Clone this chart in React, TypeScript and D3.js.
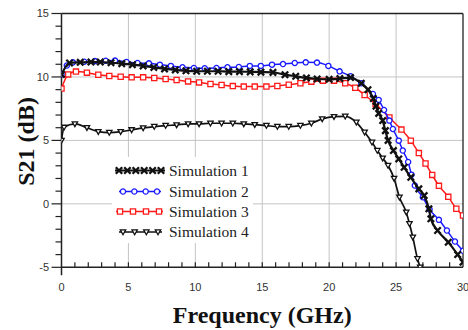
import * as d3 from "d3";
import React from "react";

// values (GHz / dB)
const sim1Freq = [0, 0.6, 1.4, 2.2, 2.9, 3.7, 4.5, 5.3, 6.1, 6.9, 7.7, 8.5, 9.3, 10.1, 10.9, 11.7, 12.5, 13.3, 14.1, 14.9, 15.8, 16.7, 17.5, 18.3, 19.1, 20.0, 20.8, 21.6, 22.4, 22.9, 23.3, 23.5, 23.7, 24.0, 24.2, 24.4, 24.8, 25.2, 25.6, 26.1, 26.7, 27.1, 27.45, 27.6, 28.1, 28.9, 29.6, 30];
const sim1Gain = [10.2, 11.1, 11.15, 11.17, 11.17, 11.12, 11.05, 10.97, 10.87, 10.75, 10.63, 10.55, 10.48, 10.45, 10.45, 10.45, 10.42, 10.42, 10.4, 10.38, 10.36, 10.18, 10.05, 9.92, 9.84, 9.81, 9.87, 9.95, 9.5, 9.0, 8.3, 7.7, 7.13, 6.56, 5.77, 5.0, 4.2, 3.54, 2.88, 2.09, 1.18, 0.65, -0.39, -1.18, -2.1, -3.02, -4.0, -4.6];

const sim2Freq = [0, 0.4, 0.85, 1.7, 2.5, 3.3, 4.0, 4.86, 5.68, 6.53, 7.35, 8.17, 9.04, 9.89, 10.7, 11.58, 12.4, 13.25, 14.07, 14.89, 15.73, 16.55, 17.43, 18.25, 19.09, 19.94, 20.78, 21.6, 22.4, 23.27, 23.7, 24.1, 24.5, 24.76, 25.2, 25.5, 25.9, 26.15, 26.4, 27.0, 27.5, 28.2, 28.8, 29.4, 30];
const sim2Gain = [10.2, 10.9, 11.15, 11.2, 11.25, 11.28, 11.29, 11.18, 11.1, 11.07, 10.97, 10.87, 10.76, 10.71, 10.68, 10.71, 10.76, 10.79, 10.87, 10.87, 10.97, 11.02, 11.1, 11.15, 11.13, 10.87, 10.44, 10.05, 9.5, 8.66, 8.19, 7.4, 6.56, 5.9, 4.98, 4.2, 3.3, 2.3, 1.44, 0.52, -0.43, -1.26, -2.1, -2.97, -3.7];

const sim3Freq = [0, 0.5, 1.08, 1.9, 2.75, 3.57, 4.42, 5.24, 6.1, 6.93, 7.78, 8.6, 9.46, 10.28, 11.13, 11.96, 12.8, 13.62, 14.44, 15.31, 16.13, 16.98, 17.85, 18.67, 19.54, 20.36, 21.2, 21.95, 22.65, 23.47, 24.5, 25.4, 26.1, 26.7, 27.2, 27.7, 28.2, 28.9, 29.5, 30];
const sim3Gain = [9.08, 10.2, 10.42, 10.34, 10.17, 10.08, 10.02, 9.97, 9.97, 9.92, 9.84, 9.76, 9.65, 9.57, 9.45, 9.37, 9.28, 9.24, 9.24, 9.24, 9.29, 9.39, 9.5, 9.63, 9.71, 9.71, 9.5, 9.15, 8.58, 7.87, 6.8, 5.85, 4.98, 4.0, 3.18, 2.28, 1.42, 0.55, -0.39, -0.92];

const sim4Freq = [0, 0.19, 1.0, 1.9, 2.75, 3.57, 4.42, 5.24, 6.1, 6.93, 7.78, 8.6, 9.46, 10.28, 11.13, 11.96, 12.8, 13.62, 14.44, 15.31, 16.13, 16.98, 17.85, 18.67, 19.48, 20.36, 21.2, 22.03, 22.65, 23.2, 23.6, 24.0, 24.4, 24.85, 25.25, 25.76, 26.0, 26.25, 26.6, 26.8];
const sim4Gain = [5.0, 6.03, 6.3, 6.0, 5.69, 5.62, 5.69, 5.83, 5.98, 6.09, 6.17, 6.22, 6.3, 6.3, 6.35, 6.35, 6.35, 6.3, 6.24, 6.17, 6.09, 6.09, 6.17, 6.35, 6.69, 6.87, 6.9, 6.43, 5.64, 4.85, 4.2, 3.6, 3.02, 2.0, 0.52, -0.66, -1.57, -2.63, -4.33, -5.0];

const seriesNames = ["Simulation 1", "Simulation 2", "Simulation 3", "Simulation 4"];
const xTicks = [0, 5, 10, 15, 20, 25, 30];
const yTicks = [-5, 0, 5, 10, 15];

type Marker = "x" | "circle" | "square" | "tri";

function markerPath(type: Marker) {
  if (type === "x") {
    const s = 3.2;
    return `M${-s},${-s}L${s},${s}M${-s},${s}L${s},${-s}`;
  }
  if (type === "square") return "M-2.6,-2.6H2.6V2.6H-2.6Z";
  if (type === "tri") return "M-2.7,-2.1L2.7,-2.1L0,2.7Z";
  return "M2.6,0A2.6,2.6 0 1,1 -2.6,0A2.6,2.6 0 1,1 2.6,0Z";
}

const App: React.FC = () => {
  const width = 468;
  const height = 330;
  const left = 61.5;
  const right = 463;
  const top = 13.5;
  const bottom = 267.3;

  const x = d3.scaleLinear().domain([0, 30]).range([left, right]);
  const y = d3.scaleLinear().domain([-5, 15]).range([bottom, top]);

  const series = [
    { name: seriesNames[2], freq: sim3Freq, gain: sim3Gain, color: "#ff1a1a", marker: "square" as Marker, lw: 1.5 },
    { name: seriesNames[1], freq: sim2Freq, gain: sim2Gain, color: "#1a1aff", marker: "circle" as Marker, lw: 1.5 },
    { name: seriesNames[3], freq: sim4Freq, gain: sim4Gain, color: "#111", marker: "tri" as Marker, lw: 1.7 },
    { name: seriesNames[0], freq: sim1Freq, gain: sim1Gain, color: "#111", marker: "x" as Marker, lw: 2.2 },
  ];

  const line = d3.line<[number, number]>()
    .curve(d3.curveMonotoneX)
    .x(d => x(d[0]))
    .y(d => y(d[1]));

  const legendRows = [
    { name: seriesNames[0], color: "#111", marker: "x" as Marker, n: 6, x0: 119, x1: 161, lw: 2.2 },
    { name: seriesNames[1], color: "#1a1aff", marker: "circle" as Marker, n: 4, x0: 123, x1: 157, lw: 1.5 },
    { name: seriesNames[2], color: "#ff1a1a", marker: "square" as Marker, n: 4, x0: 120, x1: 159, lw: 1.5 },
    { name: seriesNames[3], color: "#111", marker: "tri" as Marker, n: 4, x0: 123, x1: 158, lw: 1.7 },
  ];
  const legendY = [170.5, 191.5, 211.5, 232];

  const sans = "'Liberation Sans', Arial, sans-serif";
  const serif = "'Liberation Serif', 'Times New Roman', serif";

  return (
    <svg width={width} height={height} viewBox={`0 0 ${width} ${height}`}
      style={{ position: "absolute", left: 0, top: 0, background: "#fff" }}>
      <defs>
        <clipPath id="plot">
          <rect x={left} y={top} width={right - left} height={bottom - top} />
        </clipPath>
      </defs>

      {/* grid */}
      <g stroke="#c4c4c4" strokeWidth={1}>
        {xTicks.slice(1, -1).map(t => (
          <line key={"gx" + t} x1={x(t)} x2={x(t)} y1={top} y2={bottom} />
        ))}
        {yTicks.slice(1, -1).map(t => (
          <line key={"gy" + t} x1={left} x2={right} y1={y(t)} y2={y(t)} />
        ))}
      </g>

      {/* frame */}
      <g stroke="#222" fill="none">
        <line x1={left} x2={right} y1={top} y2={top} strokeWidth={1.3} />
        <line x1={right} x2={right} y1={top} y2={bottom} strokeWidth={1.3} />
        <line x1={left} x2={right} y1={bottom} y2={bottom} strokeWidth={1.5} />
        <line x1={left} x2={left} y1={top} y2={bottom + 8} strokeWidth={1.5} />
      </g>

      {/* minor + major ticks */}
      <g stroke="#222" strokeWidth={1.2}>
        {d3.range(1, 30).map(t => (
          <line key={"tx" + t} x1={x(t)} x2={x(t)} y1={bottom} y2={bottom - 5} />
        ))}
        {d3.range(-5, 16).map(t => (
          <line key={"ty" + t} x1={left} x2={left - (t % 5 === 0 ? 10 : 6)} y1={y(t)} y2={y(t)} />
        ))}
      </g>

      <g fontFamily={sans} fontSize={11} fill="#333">
        {xTicks.map(t => (
          <text key={"lx" + t} x={x(t)} y={291} textAnchor="middle">{t}</text>
        ))}
        {yTicks.map(t => (
          <text key={"ly" + t} x={49} y={y(t)} dy="0.36em" textAnchor="end">{t}</text>
        ))}
      </g>

      {/* legend box hides grid */}
      <rect x={112} y={157} width={141} height={86} fill="#fff" />

      {/* series */}
      <g clipPath="url(#plot)">
        {series.map(s => {
          const pts = s.freq.map((f, i) => [f, s.gain[i]] as [number, number]);
          return (
            <g key={s.name}>
              <path d={line(pts) ?? ""} fill="none" stroke={s.color} strokeWidth={s.lw} strokeLinejoin="round" />
              {pts.map((p, i) => (
                <path key={i} d={markerPath(s.marker)} transform={`translate(${x(p[0])},${y(p[1])})`}
                  fill={s.marker === "x" ? "none" : "#fff"} stroke={s.color}
                  strokeWidth={s.marker === "x" ? 2.3 : 1.3} />
              ))}
            </g>
          );
        })}
      </g>

      {/* legend */}
      <g>
        {legendRows.map((r, i) => {
          const ly = legendY[i];
          const xs = d3.range(r.n).map(k => r.x0 + (k * (r.x1 - r.x0)) / (r.n - 1));
          return (
            <g key={r.name}>
              <line x1={r.x0 - 4} x2={r.x1 + 4} y1={ly} y2={ly} stroke={r.color} strokeWidth={r.lw} />
              {xs.map((mx, k) => (
                <path key={k} d={markerPath(r.marker)} transform={`translate(${mx},${ly})`}
                  fill={r.marker === "x" ? "none" : "#fff"} stroke={r.color}
                  strokeWidth={r.marker === "x" ? 2.3 : 1.3} />
              ))}
              <text x={169} y={ly} dy="0.33em" style={{ fontFamily: serif }} fontSize={15.5} fill="#222">{r.name}</text>
            </g>
          );
        })}
      </g>

      {/* axis titles */}
      <text x={(left + right) / 2} y={323} textAnchor="middle" fontFamily={serif}
        fontWeight="bold" fontSize={24} fill="#111">Frequency (GHz)</text>
      <text transform={`translate(34,${(top + bottom) / 2 + 1}) rotate(-90)`} textAnchor="middle"
        fontFamily={serif} fontWeight="bold" fontSize={24} fill="#111">S21 (dB)</text>
    </svg>
  );
};

export default App;
